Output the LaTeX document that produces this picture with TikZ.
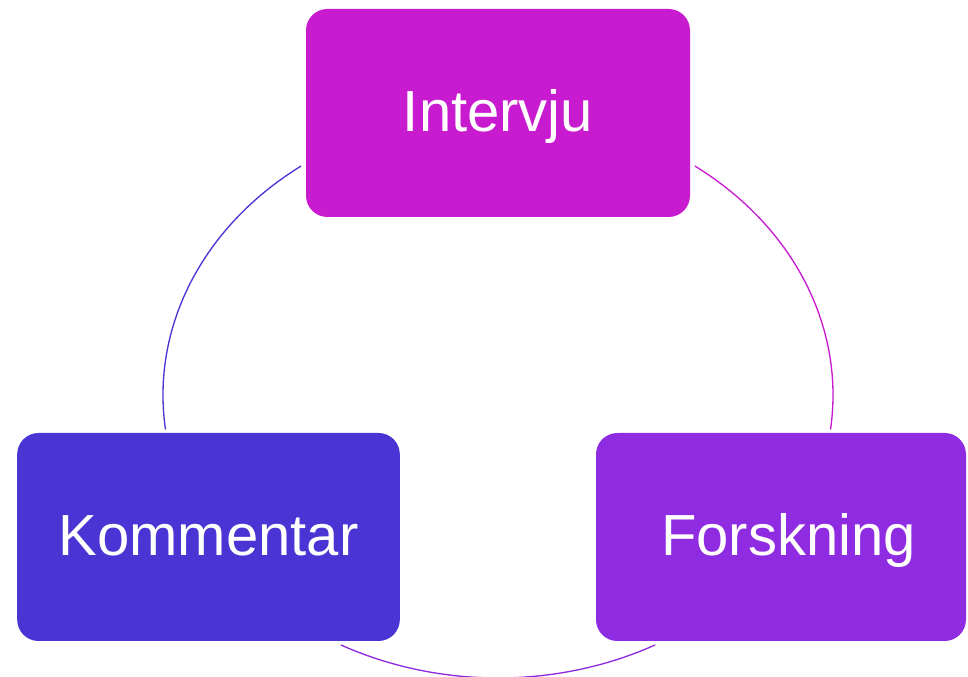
\documentclass[tikz,border=0pt]{standalone}
\usepackage{fontspec}
\usetikzlibrary{calc}
\setmainfont{Liberation Sans}
\definecolor{intcol}{HTML}{C81BD0}
\definecolor{komcol}{HTML}{4B34D4}
\definecolor{forcol}{HTML}{8F2BE0}
\tikzset{
  boks/.style={rectangle,rounded corners=16pt,minimum height=156pt,
    text=white,font=\fontsize{43.5}{52}\selectfont,inner sep=0pt,
    text height=28pt,text depth=0pt},
  bue/.style={line width=1pt}
}
\begin{document}
\begin{tikzpicture}[x=0.75pt,y=0.75pt]
            \useasboundingbox (0,0) rectangle (968,677);
            \coordinate (c) at (498,282);
            \node[boks,fill=intcol,minimum width=288pt] (intervju) at (498,564) {Intervju};
            \node[boks,fill=komcol,minimum width=287pt] (kommentar) at (208.5,140) {Kommentar};
            \node[boks,fill=forcol,minimum width=277.5pt] (forskning) at (781,140) {\hspace*{11pt}Forskning};
            % arcs of the cycle
            \coordinate (a1) at ($(c)+(126:251.25pt and 212.25pt)$);
            \coordinate (a2) at ($(c)+(54:251.25pt and 212.25pt)$);
            \coordinate (a3) at ($(c)+(242:251.25pt and 212.25pt)$);
            \draw[bue,komcol] (a1) arc[start angle=126,end angle=187,x radius=251.25pt,y radius=212.25pt];
            \draw[bue,intcol] (a2) arc[start angle=54,end angle=-7,x radius=251.25pt,y radius=212.25pt];
            \draw[bue,forcol] (a3) arc[start angle=242,end angle=298,x radius=251.25pt,y radius=212.25pt];
\end{tikzpicture}
\end{document}
